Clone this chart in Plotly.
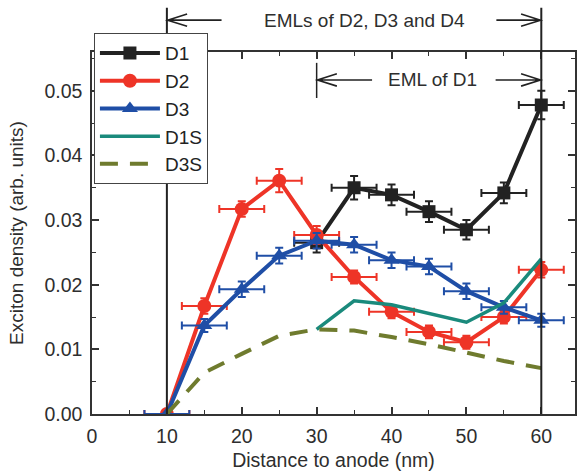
import plotly.graph_objects as go

# ---- data ----
d1_x = [30, 35, 40, 45, 50, 55, 60]
d1_y = [0.0265, 0.0350, 0.0339, 0.0313, 0.0285, 0.0342, 0.0478]
d1_ey = [0.0015, 0.0018, 0.0016, 0.0016, 0.0015, 0.0016, 0.0022]

d2_x = [10, 15, 20, 25, 30, 35, 40, 45, 50, 55, 60]
d2_y = [0.0, 0.0167, 0.0317, 0.0361, 0.0277, 0.0212, 0.0158, 0.0127, 0.0111, 0.0150, 0.0223]
d2_ey = [0.0, 0.0012, 0.0012, 0.0018, 0.0014, 0.0010, 0.0010, 0.0010, 0.0010, 0.0010, 0.0012]

d3_x = [10, 15, 20, 25, 30, 35, 40, 45, 50, 55, 60]
d3_y = [0.0, 0.0137, 0.0193, 0.0245, 0.0268, 0.0262, 0.0238, 0.0228, 0.0190, 0.0165, 0.0145]
d3_ey = [0.0, 0.0010, 0.0012, 0.0012, 0.0012, 0.0012, 0.0012, 0.0012, 0.0012, 0.0010, 0.0010]

x_err = 3.0

d1s_x = [30, 35, 40, 45, 50, 55, 60]
d1s_y = [0.0131, 0.0175, 0.0169, 0.0156, 0.0142, 0.0172, 0.0240]

d3s_x = [10, 15, 20, 25, 30, 35, 40, 45, 50, 55, 60]
d3s_y = [0.0, 0.0064, 0.0093, 0.0121, 0.0131, 0.0129, 0.0119, 0.0108, 0.0095, 0.0082, 0.0071]

x_ticks = [0, 10, 20, 30, 40, 50, 60]
y_ticks = [0.00, 0.01, 0.02, 0.03, 0.04, 0.05]

BLACK = "#222222"
RED = "#ee3427"
BLUE = "#1f4ea6"
TEAL = "#1a8a7c"
OLIVE = "#6f7b2e"
TXT = "#2e2e2e"
FONT = "Liberation Sans"

fig = go.Figure()

def err_x(color):
    return dict(type="constant", value=x_err, color=color, thickness=2, width=4)

def err_y(arr, color):
    return dict(type="data", array=arr, color=color, thickness=2, width=4)

fig.add_trace(go.Scatter(x=d1_x, y=d1_y, name="D1", mode="lines+markers",
                         line=dict(color=BLACK, width=4),
                         marker=dict(symbol="square", size=13, color=BLACK),
                         error_x=err_x(BLACK), error_y=err_y(d1_ey, BLACK)))
fig.add_trace(go.Scatter(x=d2_x, y=d2_y, name="D2", mode="lines+markers",
                         line=dict(color=RED, width=4),
                         marker=dict(symbol="circle", size=14, color=RED),
                         error_x=err_x(RED), error_y=err_y(d2_ey, RED)))
fig.add_trace(go.Scatter(x=d3_x, y=d3_y, name="D3", mode="lines+markers",
                         line=dict(color=BLUE, width=4),
                         marker=dict(symbol="triangle-up", size=14, color=BLUE),
                         error_x=err_x(BLUE), error_y=err_y(d3_ey, BLUE)))
fig.add_trace(go.Scatter(x=d1s_x, y=d1s_y, name="D1S", mode="lines",
                         line=dict(color=TEAL, width=3.5)))
fig.add_trace(go.Scatter(x=d3s_x, y=d3s_y, name="D3S", mode="lines",
                         line=dict(color=OLIVE, width=4, dash="18px,12px")))

shapes = []
# vertical EML boundary lines
for xv in (10, 60):
    shapes.append(dict(type="line", xref="x", yref="paper", x0=xv, x1=xv, y0=0, y1=1.122,
                       line=dict(color=BLACK, width=2)))
shapes.append(dict(type="line", xref="x", yref="paper", x0=30, x1=30, y0=0.873, y1=0.970,
                   line=dict(color=BLACK, width=1.5)))

def arrow(x_tail, x_tip, yp):
    d = 1 if x_tip > x_tail else -1
    hx = x_tip - d * 2.6
    hy = 0.017
    path = (f"M{x_tail},{yp} L{x_tip},{yp} M{hx},{yp + hy} L{x_tip},{yp} L{hx},{yp - hy}")
    return dict(type="path", xref="x", yref="paper", path=path,
                line=dict(color=BLACK, width=1.6))

Y_TOP = 1.088
Y_D1 = 0.9227
shapes.append(arrow(17.3, 10.1, Y_TOP))
shapes.append(arrow(54.0, 59.9, Y_TOP))
shapes.append(arrow(37.4, 30.1, Y_D1))
shapes.append(arrow(53.9, 59.9, Y_D1))

annotations = [
    dict(text="EMLs of D2, D3 and D4", x=36.4, y=Y_TOP, xref="x", yref="paper",
         xanchor="center", yanchor="middle",
         showarrow=False, font=dict(size=19, color=TXT, family=FONT)),
    dict(text="EML of D1", x=45.5, y=Y_D1, xref="x", yref="paper",
         xanchor="center", yanchor="middle",
         showarrow=False, font=dict(size=19, color=TXT, family=FONT)),
]

axis_common = dict(showline=True, linecolor="#333333", linewidth=1.5, mirror="ticks",
                   ticks="inside", ticklen=7, tickwidth=1.5, tickcolor="#333333",
                   showgrid=False, zeroline=False,
                   tickfont=dict(size=19.5, color=TXT, family=FONT))

fig.update_layout(
    width=579, height=473,
    margin=dict(l=92, r=2, t=52, b=59),
    paper_bgcolor="white", plot_bgcolor="white",
    font=dict(family=FONT, color=TXT),
    xaxis=dict(range=[0, 64.5], tickvals=x_ticks, ticklabelstandoff=4,
               minor=dict(dtick=5, tick0=0, ticks="inside", ticklen=4, tickcolor="#333333", tickwidth=1.2),
               title=dict(text="Distance to anode (nm)", font=dict(size=19.5, family=FONT, color=TXT),
                          standoff=7),
               **axis_common),
    yaxis=dict(range=[0, 0.056], tickvals=y_ticks, tickformat=".2f", ticklabelstandoff=4,
               minor=dict(dtick=0.005, tick0=0, ticks="inside", ticklen=4, tickcolor="#333333", tickwidth=1.2),
               title=dict(text="Exciton density (arb. units)", font=dict(size=19, family=FONT, color=TXT),
                          standoff=16),
               **axis_common),
    legend=dict(x=0.004, y=1.052, xanchor="left", yanchor="top",
                bgcolor="white", bordercolor="#444444", borderwidth=1,
                font=dict(size=19, family=FONT, color="#222222"),
                tracegroupgap=0, itemwidth=60),
    shapes=shapes,
    annotations=annotations,
    showlegend=True,
)

fig.write_html("out.html")
